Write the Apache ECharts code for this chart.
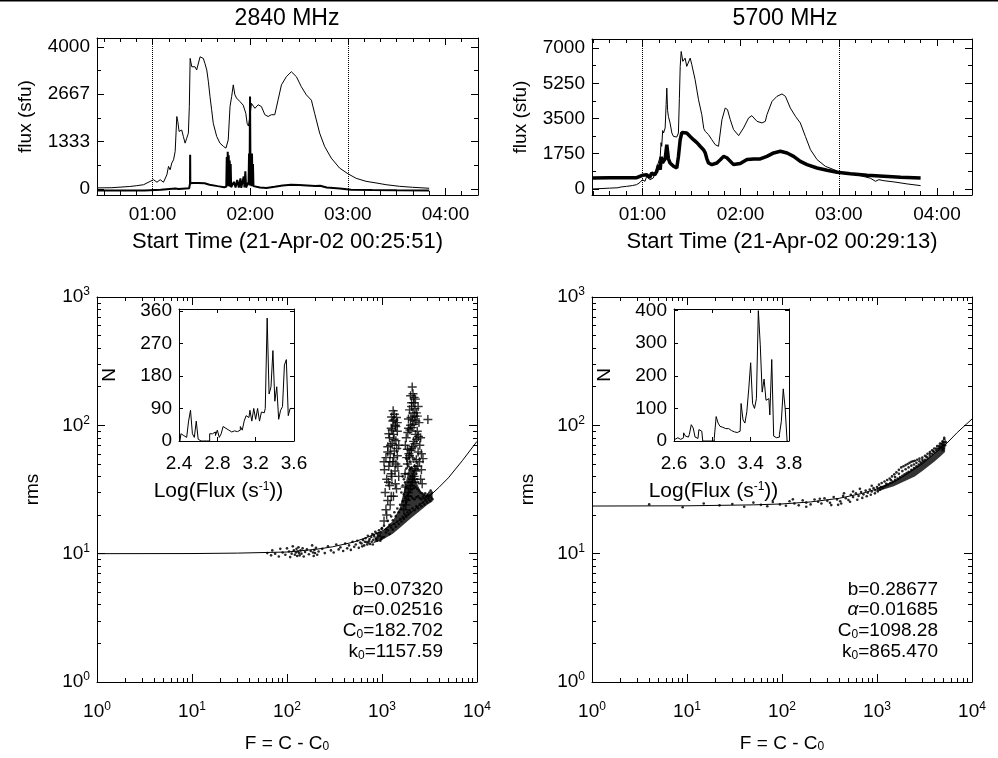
<!DOCTYPE html>
<html>
<head>
<meta charset="utf-8">
<script src="https://cdn.jsdelivr.net/npm/echarts@6/dist/echarts.min.js"></script>
<style>html,body{margin:0;padding:0;background:#fff}#main{width:998px;height:758px}</style>
</head>
<body>
<div id="main"></div>
<script>
// ---- data ----
// light curves, [minutes after 00:00, flux sfu]
var flux2840 = [[26,30],[35,35],[46,70],[50,90],[54.5,120],[58.6,215],[60.6,260],[62.7,190],[64.7,260],[66.7,190],[68.8,400],[69.8,635],[70.8,540],[71.8,730],[72.9,820],[73.9,1060],[74.9,2040],[75.5,1900],[76.3,1620],[76.9,1570],[77.9,1660],[78.9,1480],[80,1290],[81,1430],[82,1570],[82.6,2320],[83.1,3675],[84.1,3440],[85.1,3490],[86.1,3440],[87.1,3350],[88.2,3400],[89.2,3720],[90.2,3770],[91.2,3675],[92.2,3530],[93.3,3350],[94.3,3020],[95.3,2600],[96.3,2230],[97.3,1850],[99.4,1480],[101.4,1290],[103.5,1200],[105.1,1150],[106.5,1380],[107.6,2320],[108.6,2600],[109.6,2930],[110.6,2650],[111.6,2560],[113.7,2460],[115.7,2360],[117.3,2130],[118.1,1850],[118.9,1770],[119.8,2040],[120.8,2410],[122.9,2270],[124.9,2370],[126.9,2320],[129,2090],[131,2040],[133,2090],[135.1,2090],[137.1,2500],[139.2,2930],[142.2,3160],[145.3,3300],[146.3,3270],[148.4,3160],[151.4,2880],[154.5,2650],[157.6,2500],[159.6,2130],[162.7,1570],[165.7,1200],[169.8,870],[174.9,590],[180,430],[185.1,300],[191.2,215],[197.3,170],[203.5,120],[211.6,75],[219.8,47],[230,20]];
var noise2840 = [[26,-40],[40,-40],[55,-40],[65,-20],[74,10],[75,40],[76,0],[82.5,20],[83,150],[83.1,960],[83.2,160],[85,170],[88,170],[92,160],[95,120],[100,80],[104,50],[105.3,60],[105.6,900],[105.9,100],[106.2,1050],[106.5,80],[106.8,950],[107.1,150],[107.4,800],[107.7,60],[108,700],[108.3,50],[109,60],[110,200],[111,40],[112,250],[113,40],[114,300],[114.5,30],[116,350],[116.5,40],[117,500],[117.5,40],[118,100],[119,200],[119.3,1000],[119.6,100],[119.9,2600],[120.2,300],[120.5,900],[120.8,80],[121.1,1000],[121.4,200],[121.7,700],[122,80],[123,60],[126,40],[130,30],[135,60],[140,100],[145,120],[150,110],[155,100],[160,80],[163,90],[167,40],[175,10],[182,-20],[195,-30],[210,-35],[230,-40]];
var flux5700 = [[29.6,0],[40,40],[45,60],[47,100],[50.4,130],[54,170],[56.5,215],[58.6,330],[60,460],[61.6,380],[62.6,630],[64.7,460],[66.7,550],[68.8,1040],[70.9,1620],[71.4,2300],[71.8,2120],[72.4,2900],[72.9,2780],[73.9,3030],[74.5,4200],[74.9,5010],[75.4,3900],[75.9,3600],[76.9,3280],[78,2780],[79,2610],[81,2580],[82,2780],[82.6,4500],[83.1,6090],[83.7,6830],[84.7,6340],[86.1,6500],[87.1,6090],[89.2,6500],[90.2,6170],[92.2,5430],[94.3,4430],[96.3,3690],[97.5,3000],[98.4,2860],[100.4,2700],[102.4,2450],[104.5,2200],[106.5,2120],[108.6,3440],[110.6,4020],[112,3940],[113.7,3440],[115.7,2950],[118.8,2650],[121.8,3030],[124.9,3530],[126.9,3640],[130,3360],[133.1,3280],[135.1,3360],[136.1,3690],[139.2,4350],[142.2,4600],[145.3,4720],[147.4,4600],[150.4,4020],[153.5,3610],[156.5,3280],[159.6,2610],[162.7,1950],[166.7,1460],[171.8,1125],[177,960],[181,830],[187.1,760],[193.3,660],[199.4,530],[202.4,380],[203.5,300],[204.5,460],[207.6,410],[213.7,350],[221.8,250],[230,165]];
var noise5700 = [[29.6,550],[40,560],[50,560],[56.5,560],[60,680],[62.7,710],[64.4,560],[65.7,790],[67.5,700],[68.8,880],[69.8,1200],[70.9,960],[71.5,1600],[72.3,1300],[72.9,1210],[73.9,1500],[74.9,2200],[75.9,1500],[76.9,1290],[79,1125],[81,1040],[82,1600],[83.1,2450],[84.1,2800],[85.1,2860],[87.1,2780],[89.2,2610],[91.2,2450],[93.3,2300],[95.3,2120],[97.3,1950],[98.4,1790],[99.4,1500],[100.4,1290],[102.4,1210],[105.5,1290],[107.6,1450],[109.6,1620],[111.6,1550],[112.7,1460],[115.7,1210],[119.8,1260],[123.9,1460],[128,1490],[132,1490],[136.1,1620],[140.2,1790],[144.3,1870],[148.4,1790],[152.4,1620],[156.5,1370],[160.6,1210],[166.7,1040],[172.8,930],[178.9,830],[187.1,760],[197.3,680],[207.6,630],[217.8,580],[230,550]];
var markTimes = [60, 180];

// rms vs F scatter, [F, rms]
var dots2840 = [[62,10.1],[68,9.7],[70,10.6],[75,10.0],[82,9.5],[85,10.9],[90,10.2],[96,9.8],[100,11.0],[105,10.4],[108,9.4],[112,10.0],[115,11.4],[118,10.6],[121,9.8],[124,10.2],[126,10.9],[128,9.6],[130,10.4],[132,11.2],[134,10.1],[136,9.7],[139,10.6],[142,10.0],[146,11.0],[150,9.5],[155,10.3],[162,10.8],[170,9.9],[178,10.5],[184,11.6],[188,10.2],[191,9.6],[194,10.7],[197,10.1],[202,11.1],[208,9.8],[215,10.4],
  [235,10.9],[250,10.1],[270,11.4],[290,10.6],[310,10.2],[330,11.8],[350,10.8],[365,11.2],[390,10.5],[410,12.0],[430,11.0],[450,11.6],[470,10.7],[490,12.4],[510,11.3],[530,11.8],[550,12.6],[570,11.1],[590,12.2],
  [610,12.0],[630,12.8],[650,11.6],[670,13.2],[690,12.3],[710,13.8],[730,12.6],[750,11.9],[770,13.5],[790,14.2],[810,12.8],[830,13.6],[850,14.8],[870,13.2],[890,12.6],[910,14.0],[930,15.2],[950,13.8],[970,14.6],[990,15.6],[1000,13.4],
  [620,11.4],[660,12.4],[700,11.8],[740,13.0],[780,12.4],[820,14.0],[860,13.0],[900,13.6],[940,14.4],[980,13.0],[1000,15.8],[960,12.6],[880,14.4],[800,11.8],[720,12.2],
  [1050,13.5],[1100,14.6],[1150,15.2],[1200,14.2],[1250,16.0],[1300,15.4],[1350,17.0],[1400,16.2],[1450,17.8],[1500,17.0],[1550,18.6],[1600,17.8],[1650,19.4],[1700,18.6],[1750,20.2],[1800,19.4],[1850,21.0],[1900,20.2],[1950,21.8],[2000,21.0],[2100,22.6],[2200,21.8],[2300,23.4],[2400,22.6],[2500,24.2],[2600,23.4],[2700,25.0],[2800,24.2],[2900,25.8],[3000,25.0],[3100,26.6],[3200,25.8],[3300,27.4],[3400,26.6],
  [1050,16.5],[1150,18.0],[1250,19.5],[1350,21.0],[1450,22.5],[1550,24.0],[1650,25.5],[1750,27.0],[1850,28.5],[1950,30.0],[2050,31.5],[2150,32.5],[2250,33.0],[2350,32.0],[2450,31.0],[2550,30.0],[2650,29.5],[2750,28.5],[2850,29.5],[2950,28.0],[3050,29.0],[3150,30.0],[3250,31.0],[3350,30.0],
  [1600,30],[1650,34],[1700,38],[1750,42],[1800,46],[1850,50],[1900,55],[1950,60],[2000,52],[2050,47],[2100,56],[2150,44],[2200,40],[2250,36],[2300,42],[2350,38],[1900,36],[2000,40],[2100,34],[1800,33],[1700,29],[2200,48],[2000,65],[1950,45],[2400,36],
  [1650,40],[1750,36],[1850,42],[1950,52],[2050,58],[2150,52],[2250,45],[1800,55],[1900,48],[2000,46],[2100,42],[2300,48],[2200,55],[1950,38],[2050,36],[2150,38],
  [1100,15.5],[1200,16.8],[1300,18.2],[1400,19.6],[1500,21.0],[1600,22.4],[1700,23.8],[1800,25.2],[1900,26.6],[2000,28.0],[2100,27.0],[2200,26.5],[2300,27.5],[2400,28.0],[2500,27.0],[2600,26.5],[2700,27.5],[2800,26.8],[2900,27.6],[3000,28.5],[3100,27.8],[3200,28.6],[3300,29.2]];
var core2840 = [[800,12],[1000,12.8],[1300,14.3],[1600,16.3],[2000,18.8],[2500,21.5],[3000,24],[3400,25.5],[3400,29],[3000,28.5],[2600,30],[2300,36],[2150,46],[1950,48],[1750,34],[1550,23],[1300,18],[1100,16],[900,13.6]];
var crosses2840 = [[1050,18],[1100,22],[1150,26],[1080,30],[1200,34],[1120,38],[1250,42],[1060,45],[1180,48],[1300,52],[1100,56],[1220,60],[1350,63],[1150,68],[1280,72],[1400,76],[1200,80],[1320,85],[1450,90],[1250,95],[1380,100],[1300,108],[1420,115],[1350,122],[1310,130],[1150,62],[1400,50],[1500,40],[1450,58],[1050,52],[1380,35],[1250,28],[1500,70],
  [1120,20],[1220,24],[1320,28],[1420,32],[1170,36],[1270,40],[1370,44],[1470,48],[1210,52],[1330,56],[1430,66],[1230,70],[1340,78],[1180,86],[1280,92],[1400,98],[1330,110],[1450,105],[1260,116],
  [1700,22],[1800,26],[1900,30],[2000,34],[2100,38],[1750,42],[2200,46],[1850,50],[2300,54],[1950,58],[2400,62],[2050,66],[2500,70],[2150,75],[1800,80],[2250,85],[2350,90],[1900,95],[2000,100],[2450,105],[2100,110],[2200,118],[2300,125],[1950,132],[2050,140],[2150,150],[2250,160],[2000,170],[2120,176],[2080,199],[2600,45],[2700,55],[2550,80],[1850,65],[2400,140],[3040,111],[2650,35],[1750,33],
  [1780,24],[1880,28],[1980,32],[2080,36],[2180,40],[2280,44],[2380,48],[2480,52],[1820,56],[1920,60],[2020,64],[2120,68],[2220,72],[2320,78],[2420,82],[1870,88],[1970,92],[2070,96],[2170,102],[2270,108],[2020,115],[2120,125],[2220,135],[2050,150],[2180,165],[1900,112],[2350,118],[1760,70],[2600,60],[2550,38]];
var fit2840 = [[1,10],[10,10.02],[30,10.1],[100,10.3],[200,10.8],[300,11.3],[500,12.3],[700,13.4],[1000,15.0],[1500,18],[2000,20.8],[3000,27],[4000,33],[5000,39],[7000,53],[10000,75]];

var dots5700 = [[4,24.2],[9,23.0],[15,24.6],[22,23.8],[30,24.4],[40,23.2],[50,25.0],[60,24.0],[70,23.4],[80,25.3],[95,24.2],[110,23.6],[120,25.6],[135,24.6],[150,23.8],[165,26.0],[180,25.0],[200,24.2],[220,26.4],[240,25.4],[260,24.6],[280,27.0],[300,25.8],[320,24.9],[350,27.6],[380,26.4],[410,25.6],[440,28.2],[470,27.0],[500,26.2],[530,28.8],[560,27.6],[600,29.5],[640,28.2],[680,30.2],[720,29.0],[760,31.0],[800,29.8],[840,31.6],[880,30.5],[920,32.4],[960,31.2],[1000,33.0],
  [130,26.5],[180,23.2],[250,26.8],[330,23.9],[420,24.6],[520,25.4],[620,26.3],[700,27.2],[780,28.0],[860,28.8],[950,29.5],[560,30.5],[450,29.6],[390,24.0],[660,32],[880,33.8],
  [1020,30.5],[1080,31.5],[1150,32.5],[1220,33.5],[1300,34.5],[1380,35.5],[1460,36.5],[1550,37.5],[1650,38.5],[1750,39.5],[1850,40.5],[1950,41.5],[2050,42.5],[2150,43.5],[2300,45],[2450,46.5],[2600,48],[2750,49.5],[2900,51],[3050,52.5],[3200,54],[3400,56],[3600,58],[3800,60],[4000,62],[4200,64],[4400,66],[4600,67],[4800,68],[5000,70],
  [1050,34.5],[1120,35.5],[1200,36.5],[1280,37.5],[1360,38.5],[1440,40],[1520,41.5],[1600,43],[1700,45],[1800,47],[1900,48],[2000,49],[2100,50],[2200,51],[2300,52],[2400,52.5],[2500,53],[2650,54],[2800,55],[3000,56],[3200,58],[3400,60],[3600,62],[3800,64],[4000,66],[4300,69],[4600,72],[4900,75],[5100,78],[5300,74],
  [1100,33],[1250,35],[1400,37.5],[1550,39.5],[1700,42],[1850,44],[2000,45.5],[2150,47],[2300,48.5],[2450,49.5],[2600,51],[2800,52.5],[3000,54],[3300,57],[3600,60],[3900,63],[4200,66],[4500,69],[4800,72],[5000,74],[5200,70],[4900,64],[5100,80],[5000,66]];
var core5700 = [[1000,30.5],[1500,33.5],[2000,37],[2500,40],[3000,44],[4000,52],[4600,57],[5200,62],[5300,77],[4800,73],[4200,63],[3600,57],[3000,52],[2600,48],[2200,44],[1800,40],[1400,36],[1000,32.5]];
var fit5700 = [[1,23.5],[10,23.6],[50,24],[100,24.4],[200,25.3],[400,27],[700,29.5],[1000,32],[1500,36],[2000,41],[3000,50],[4000,60],[5000,68],[7000,88],[10000,112]];

// inset histograms: N per 0.02 bin of log flux
var binWidth = 0.02;
var histStart2840 = 2.4;
var hist2840 = [0,20,15,10,15,55,85,20,10,55,5,0,0,0,0,0,20,20,25,15,30,10,20,40,35,30,28,25,28,24,26,30,40,30,55,70,65,85,55,90,60,90,55,80,78,90,340,130,150,250,110,150,60,85,95,210,225,70,90,90];
var histStart5700 = 2.6;
var hist5700 = [5,10,8,5,10,25,15,12,20,50,40,12,8,35,30,0,0,0,0,0,0,8,75,55,45,42,38,35,38,32,30,28,26,28,30,115,65,55,90,160,240,115,100,130,400,295,150,190,125,130,80,250,15,10,12,20,60,160,100,0];

var titles = ['2840 MHz', '5700 MHz'];
var startTimes = ['Start Time (21-Apr-02 00:25:51)', 'Start Time (21-Apr-02 00:29:13)'];
var fitParams = [
  {b: '0.07320', alpha: '0.02516', c0: '182.702', k0: '1157.59'},
  {b: '0.28677', alpha: '0.01685', c0: '1098.28', k0: '865.470'}
];

// ---- layout / style ----
var FONT = 'Liberation Sans, Arial, sans-serif';
var RICH = {
  b: {fontSize: 19, fontFamily: FONT, color: '#000', fill: '#000', lineHeight: 22},
  s: {fontSize: 12, fontFamily: FONT, color: '#000', fill: '#000', lineHeight: 9, verticalAlign: 'top'},
  d: {fontSize: 12, fontFamily: FONT, color: '#000', fill: '#000', lineHeight: 9, verticalAlign: 'bottom'},
  a: {fontSize: 19, fontFamily: FONT, color: '#000', fill: '#000', fontStyle: 'italic', lineHeight: 22}
};

function logMinors(lo, hi) {
  var out = [];
  for (var d = lo; d < hi; d *= 10) for (var k = 2; k <= 9; k++) out.push(k * d);
  return out;
}
function hhmm(v) { return '0' + Math.round(v / 60) + ':00'; }
function pow10(v) { return '{b|10}{s|' + Math.round(Math.log10(v)) + '}'; }

var grids = [], xAxes = [], yAxes = [];
function mkAxis(g, pos, o, major, withLabel) {
  var ax = {
    gridIndex: g, position: pos, type: o.log ? 'log' : 'value', logBase: 10,
    min: o.min, max: o.max, silent: true,
    axisLine: {show: major, onZero: false, lineStyle: {color: '#000', width: 1}},
    axisTick: {show: true, inside: true, length: major ? o.tickLen : o.minorLen,
      customValues: major ? o.major : o.minor, lineStyle: {color: '#000', width: 1}},
    axisLabel: {show: withLabel, customValues: o.major, formatter: o.fmt, margin: o.margin,
      color: '#000', fontSize: 19, fontFamily: FONT, rich: RICH},
    splitLine: {show: false}
  };
  if (withLabel && o.name) {
    ax.name = o.name;
    ax.nameLocation = 'middle';
    ax.nameGap = o.nameGap;
    ax.nameRotate = o.nameRotate || 0;
    ax.nameTextStyle = {color: '#000', fontSize: o.nameSize || 19, fontFamily: FONT, rich: RICH, padding: o.namePad || 0};
  }
  return ax;
}
function addPanel(rect, xo, yo) {
  grids.push({left: rect[0], top: rect[1], width: rect[2], height: rect[3], show: false});
  var g = grids.length - 1;
  var idx = {x: xAxes.length, y: yAxes.length};
  xAxes.push(mkAxis(g, 'bottom', xo, true, true));
  xAxes.push(mkAxis(g, 'top', xo, true, false));
  if (xo.minor) { xAxes.push(mkAxis(g, 'bottom', xo, false, false)); xAxes.push(mkAxis(g, 'top', xo, false, false)); }
  yAxes.push(mkAxis(g, 'left', yo, true, true));
  yAxes.push(mkAxis(g, 'right', yo, true, false));
  if (yo.minor) { yAxes.push(mkAxis(g, 'left', yo, false, false)); yAxes.push(mkAxis(g, 'right', yo, false, false)); }
  return idx;
}

var timeMinor = [30,40,50,70,80,90,100,110,130,140,150,160,170,190,200,210,220,230,250];
var pTL = addPanel([97, 38, 381, 157],
  {min: 25.85, max: 260, major: [60,120,180,240], minor: timeMinor, fmt: hhmm, tickLen: 7, minorLen: 4, margin: 10, name: startTimes[0], nameGap: 36, nameSize: 22},
  {min: -170, max: 4250, major: [0,1333.33,2666.67,4000], minor: [666.67,2000,3333.33], fmt: function (v) { return Math.round(v); }, tickLen: 7, minorLen: 4, margin: 7, name: 'flux (sfu)', nameGap: 62, nameRotate: 90});
var pTR = addPanel([592, 39, 380, 156],
  {min: 29.2, max: 261.4, major: [60,120,180,240], minor: timeMinor, fmt: hhmm, tickLen: 7, minorLen: 4, margin: 10, name: startTimes[1], nameGap: 36, nameSize: 22},
  {min: -300, max: 7450, major: [0,1750,3500,5250,7000], minor: [875,2625,4375,6125], fmt: function (v) { return Math.round(v); }, tickLen: 7, minorLen: 4, margin: 7, name: 'flux (sfu)', nameGap: 62, nameRotate: 90});

var fAxis = {log: true, min: 1, max: 10000, major: [1,10,100,1000,10000], minor: logMinors(1, 10000), fmt: pow10, tickLen: 8, minorLen: 4, margin: 19, name: 'F = C - C{d|0}', nameGap: 52};
var rmsAxis = {log: true, min: 1, max: 1000, major: [1,10,100,1000], minor: logMinors(1, 1000), fmt: pow10, tickLen: 8, minorLen: 4, margin: 7, name: 'rms', nameGap: 55, nameRotate: 90};
var pBL = addPanel([97, 297, 380, 394], fAxis, rmsAxis);
var pBR = addPanel([592, 297, 380, 394], fAxis, rmsAxis);

var fx1 = function (v) { return v.toFixed(1); };
var fx0 = function (v) { return String(Math.round(v)); };
var pIL = addPanel([179, 309, 115, 132],
  {min: 2.4, max: 3.6, major: [2.4,2.8,3.2,3.6], fmt: fx1, tickLen: 4, margin: 13, name: 'Log(Flux (s{s|-1}))', nameGap: 40, nameSize: 21, namePad: [0, 36, 0, 0]},
  {min: 0, max: 365, major: [0,90,180,270,360], fmt: fx0, tickLen: 4, margin: 7, name: 'N', nameGap: 60, nameRotate: 90});
var pIR = addPanel([674, 309, 115, 132],
  {min: 2.6, max: 3.8, major: [2.6,3.0,3.4,3.8], fmt: fx1, tickLen: 4, margin: 13, name: 'Log(Flux (s{s|-1}))', nameGap: 40, nameSize: 21, namePad: [0, 36, 0, 0]},
  {min: 0, max: 405, major: [0,100,200,300,400], fmt: fx0, tickLen: 4, margin: 7, name: 'N', nameGap: 60, nameRotate: 90});

function histData(start, counts) {
  return counts.map(function (c, i) { return [start + binWidth * (i + 0.5), c]; });
}
function lineSeries(p, data, width, extra) {
  var s = {type: 'line', xAxisIndex: p.x, yAxisIndex: p.y, data: data, showSymbol: false, silent: true,
    lineStyle: {color: '#000', width: width}, animation: false};
  for (var k in extra) s[k] = extra[k];
  return s;
}
function dotted() {
  return {silent: true, symbol: 'none', label: {show: false},
    lineStyle: {type: 'dotted', color: '#000', width: 1},
    data: markTimes.map(function (t) { return {xAxis: t}; })};
}
function dotSeries(p, data) {
  return {type: 'scatter', xAxisIndex: p.x, yAxisIndex: p.y, data: data, symbolSize: 2.6,
    itemStyle: {color: '#000', opacity: 0.85}, silent: true, animation: false};
}
// dense part of a point cloud, drawn as one filled outline through the axes
function coreSeries(p, outline) {
  return {type: 'custom', xAxisIndex: p.x, yAxisIndex: p.y, data: [outline[0]], silent: true, animation: false,
    renderItem: function (params, api) {
      return {type: 'polygon', shape: {points: outline.map(function (q) { return api.coord(q); })},
        style: {fill: '#000', opacity: 0.8}};
    }};
}
var CROSS = 'path://M4.2,0h1.6v4.2h4.2v1.6h-4.2v4.2h-1.6v-4.2h-4.2v-1.6h4.2z';

var series = [
  lineSeries(pTL, noise2840, 2, {}),
  lineSeries(pTL, flux2840, 1, {markLine: dotted()}),
  lineSeries(pTR, noise5700, 3.5, {}),
  lineSeries(pTR, flux5700, 1, {markLine: dotted()}),
  coreSeries(pBL, core2840),
  dotSeries(pBL, dots2840),
  {type: 'scatter', xAxisIndex: pBL.x, yAxisIndex: pBL.y, data: crosses2840, symbol: CROSS, symbolSize: 9, itemStyle: {color: '#000'}, silent: true, animation: false},
  lineSeries(pBL, fit2840, 1, {}),
  coreSeries(pBR, core5700),
  dotSeries(pBR, dots5700),
  lineSeries(pBR, fit5700, 1, {}),
  lineSeries(pIL, histData(histStart2840, hist2840), 1, {step: 'middle'}),
  lineSeries(pIR, histData(histStart5700, hist5700), 1, {step: 'middle'})
];

function txt(x, y, text, size, align) {
  return {type: 'text', x: x, y: y, silent: true,
    style: {text: text, fill: '#000', fontSize: size, fontFamily: FONT, align: align || 'center', verticalAlign: 'middle', rich: RICH}};
}
var graphic = [
  {type: 'rect', shape: {x: 0, y: 0, width: 998, height: 1.5}, style: {fill: '#000'}, silent: true},
  txt(287, 19, titles[0], 23), txt(785, 19, titles[1], 23)
];
[443, 938].forEach(function (xr, i) {
  var p = fitParams[i];
  graphic.push(txt(xr, 590, 'b=' + p.b, 19, 'right'));
  graphic.push(txt(xr, 610, '{a|\u03b1}=' + p.alpha, 19, 'right'));
  graphic.push(txt(xr, 631, 'C{d|0}=' + p.c0, 19, 'right'));
  graphic.push(txt(xr, 652, 'k{d|0}=' + p.k0, 19, 'right'));
});

var chart = echarts.init(document.getElementById('main'), null, {renderer: 'canvas'});
chart.setOption({
  backgroundColor: '#fff',
  animation: false,
  grid: grids,
  xAxis: xAxes,
  yAxis: yAxes,
  series: series,
  graphic: graphic
});
</script>
</body>
</html>
